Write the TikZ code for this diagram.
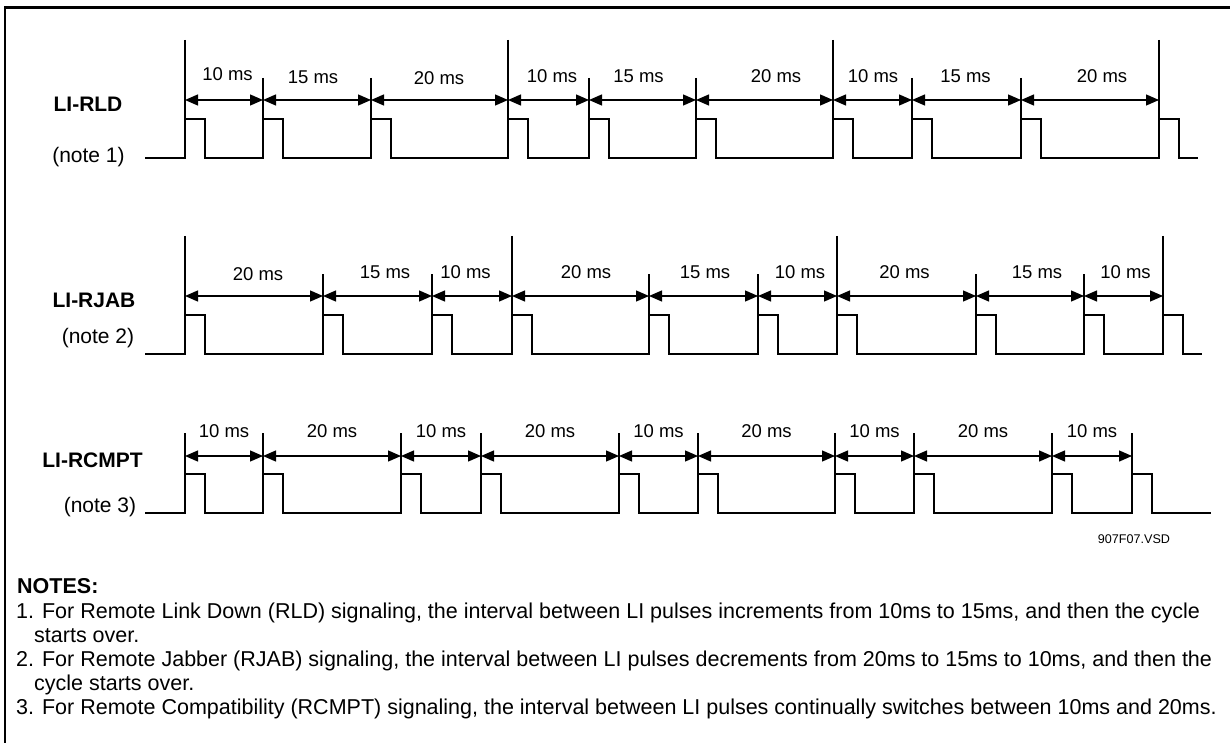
\documentclass[tikz,border=0pt]{standalone}
\usepackage{fontspec}
\setmainfont{Liberation Sans}
\usetikzlibrary{arrows.meta}
\begin{document}
\begin{tikzpicture}[x=1pt,y=-1pt,
  sig/.style={line width=1.3pt, line join=miter},
  marker/.style={line width=1.1pt},
  dimline/.style={line width=1.3pt, {Triangle[length=13pt,width=11pt]}-{Triangle[length=13pt,width=11pt]}},
  mslabel/.style={font=\fontsize{18.5}{22}\selectfont, inner sep=0pt},
  rowname/.style={font=\fontsize{21}{25}\selectfont\bfseries, inner sep=0pt},
  rownote/.style={font=\fontsize{21}{25}\selectfont, inner sep=0pt},
  notehead/.style={font=\fontsize{21.5}{24}\selectfont\bfseries, inner sep=0pt, anchor=base west},
  notetext/.style={font=\fontsize{21.5}{24}\selectfont, inner sep=0pt, anchor=base west},
  filelabel/.style={font=\fontsize{12.6}{15}\selectfont, inner sep=0pt},
  frame/.style={line width=2.4pt}
]
\useasboundingbox (0,0) rectangle (1230,743);
\fill[white] (0,0) rectangle (1230,743);
% frame (top and left edges)
\draw[frame] (5,743) -- (5,7.5) -- (1230,7.5);

% ---------------- Row 1 : LI-RLD ----------------
\node[rowname] (r1name) at (88,104) {LI-RLD};
\node[rownote] (r1note) at (88.5,157) {(note 1)};
\foreach \x/\t [count=\i] in {185/118,263/80,371/80,508/118,589/80,696/80,833/118,912/80,1021/80,1159/118}{
  \coordinate (r1e\i) at (\x,158);
  \coordinate (r1a\i) at (\x,100);
  \draw[marker] (\x,{158-\t}) -- (r1e\i);
}
\draw[sig] (145,158) \foreach \x in {185,263,371,508,589,696,833,912,1021,1159}{
  -- (\x,158) -- (\x,119) -- ({\x+20},119) -- ({\x+20},158)} -- (1198,158);
\foreach \a/\b/\v/\lx/\ly in {1/2/10/227.5/74,2/3/15/313/77,3/4/20/439/78,4/5/10/552/76,5/6/15/638.5/76,6/7/20/776/76,7/8/10/873/76,8/9/15/965.5/76,9/10/20/1102/76}{
  \draw[dimline] (r1a\a) -- (r1a\b);
  \node[mslabel] (r1l\a) at (\lx,\ly) {\v\ ms};
}

% ---------------- Row 2 : LI-RJAB ----------------
\node[rowname] (r2name) at (94,300) {LI-RJAB};
\node[rownote] (r2note) at (98,338) {(note 2)};
\foreach \x/\t [count=\i] in {185/118,323/80,432/80,512/118,649/80,758/80,837/118,976/80,1084/80,1163/118}{
  \coordinate (r2e\i) at (\x,354);
  \coordinate (r2a\i) at (\x,296);
  \draw[marker] (\x,{354-\t}) -- (r2e\i);
}
\draw[sig] (145,354) \foreach \x in {185,323,432,512,649,758,837,976,1084,1163}{
  -- (\x,354) -- (\x,315) -- ({\x+20},315) -- ({\x+20},354)} -- (1202,354);
\foreach \a/\b/\v/\lx/\ly in {1/2/20/258/274,2/3/15/385/272,3/4/10/465.5/272,4/5/20/586/272,5/6/15/705/272,6/7/10/800/272,7/8/20/904.5/272,8/9/15/1037/272,9/10/10/1125.5/272}{
  \draw[dimline] (r2a\a) -- (r2a\b);
  \node[mslabel] (r2l\a) at (\lx,\ly) {\v\ ms};
}

% ---------------- Row 3 : LI-RCMPT ----------------
\node[rowname] (r3name) at (92.5,460) {LI-RCMPT};
\node[rownote] (r3note) at (100,507) {(note 3)};
\foreach \x [count=\i] in {185,263,401,481,619,698,835,914,1052,1132}{
  \coordinate (r3e\i) at (\x,513);
  \coordinate (r3a\i) at (\x,456);
  \draw[marker] (\x,433) -- (r3e\i);
}
\draw[sig] (145,513) \foreach \x in {185,263,401,481,619,698,835,914,1052,1132}{
  -- (\x,513) -- (\x,474) -- ({\x+20},474) -- ({\x+20},513)} -- (1211,513);
\foreach \a/\b/\v in {1/2/10,2/3/20,3/4/10,4/5/20,5/6/10,6/7/20,7/8/10,8/9/20,9/10/10}{
  \draw[dimline] (r3a\a) -- (r3a\b);
  \path (r3a\a) -- (r3a\b) node[mslabel, midway, yshift=25pt] (r3l\a) {\v\ ms};
}

\node[filelabel] (file) at (1134,539) {907F07.VSD};

% ---------------- Notes ----------------
\node[notehead] (nh) at (17,593) {NOTES:};
\node[notetext] (n1a) at (16,618.5) {1. For Remote Link Down (RLD) signaling, the interval between LI pulses increments from 10ms to 15ms, and then the cycle};
\node[notetext] (n1b) at (34,642.5) {starts over.};
\node[notetext] (n2a) at (16,666.5) {2. For Remote Jabber (RJAB) signaling, the interval between LI pulses decrements from 20ms to 15ms to 10ms, and then the};
\node[notetext] (n2b) at (34,690.5) {cycle starts over.};
\node[notetext] (n3) at (16,714.5) {3. For Remote Compatibility (RCMPT) signaling, the interval between LI pulses continually switches between 10ms and 20ms.};
\end{tikzpicture}
\end{document}
